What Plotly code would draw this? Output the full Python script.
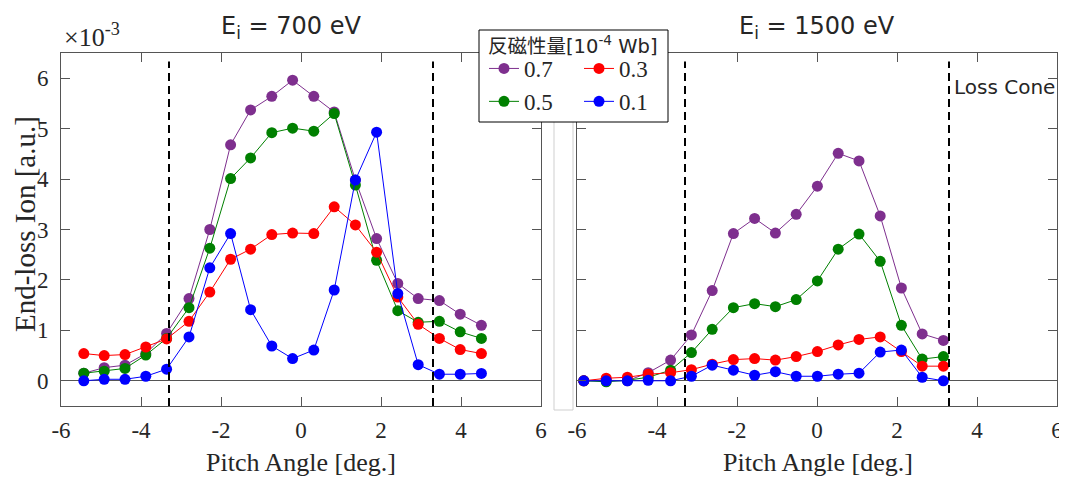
import plotly.graph_objects as go

# ---------------- data (values in units of 1e-3) ----------------
left_angle = [-5.43, -4.92, -4.40, -3.88, -3.36, -2.80, -2.28, -1.76, -1.26, -0.73,
              -0.21, 0.32, 0.83, 1.36, 1.89, 2.42, 2.93, 3.46, 3.98, 4.51]
left_07 = [0.15, 0.26, 0.31, 0.54, 0.94, 1.63, 3.00, 4.68, 5.37, 5.64,
           5.96, 5.64, 5.33, 3.98, 2.82, 1.93, 1.63, 1.59, 1.32, 1.10]
left_05 = [0.15, 0.19, 0.245, 0.51, 0.84, 1.45, 2.63, 4.01, 4.42, 4.92,
           5.01, 4.95, 5.30, 3.88, 2.39, 1.39, 1.16, 1.18, 0.97, 0.84]
left_03 = [0.54, 0.50, 0.52, 0.67, 0.83, 1.18, 1.76, 2.41, 2.61, 2.90,
           2.93, 2.92, 3.45, 3.09, 2.55, 1.66, 1.12, 0.84, 0.62, 0.54]
left_01 = [0.00, 0.03, 0.03, 0.09, 0.23, 0.87, 2.24, 2.92, 1.41, 0.69,
           0.44, 0.61, 1.80, 3.98, 4.93, 1.73, 0.32, 0.13, 0.13, 0.145]

right_angle = [-5.83, -5.27, -4.74, -4.22, -3.66, -3.14, -2.62, -2.09, -1.56,
               -1.04, -0.52, 0.01, 0.53, 1.05, 1.58, 2.11, 2.63, 3.16]
right_07 = [0.00, 0.01, 0.00, 0.16, 0.41, 0.91, 1.79, 2.92, 3.22,
            2.93, 3.30, 3.86, 4.51, 4.36, 3.27, 1.84, 0.93, 0.80]
right_05 = [0.00, -0.02, 0.01, 0.07, 0.21, 0.56, 1.02, 1.45, 1.53,
            1.47, 1.61, 1.98, 2.61, 2.91, 2.37, 1.10, 0.43, 0.48]
right_03 = [0.00, 0.05, 0.07, 0.13, 0.16, 0.22, 0.33, 0.42, 0.44,
            0.41, 0.48, 0.58, 0.71, 0.82, 0.87, 0.58, 0.29, 0.29]
right_01 = [0.00, 0.00, 0.00, 0.01, 0.00, 0.09, 0.31, 0.21, 0.11,
            0.18, 0.09, 0.09, 0.13, 0.15, 0.57, 0.61, 0.07, 0.00]

series_names = ["0.7", "0.5", "0.3", "0.1"]
series_colors = ["#7E2F8E", "#008000", "#FF0000", "#0000FF"]
series_legend = ["legend", "legend", "legend2", "legend2"]
left_values = [left_07, left_05, left_03, left_01]
right_values = [right_07, right_05, right_03, right_01]

loss_cone = 3.3
x_ticks = [-6, -4, -2, 0, 2, 4, 6]
x_tick_text = ["-6", "-4", "-2", "0", "2", "4", "6"]
y_ticks = [0, 1, 2, 3, 4, 5, 6]
y_tick_text = ["0", "1", "2", "3", "4", "5", "6"]

# the page body adds an 8 px margin, so the figure is sized and positioned to compensate
OFF = 8
W, H = 1067 - OFF, 478 - OFF
SERIF = "Liberation Serif, Times New Roman, serif"
SANS = "DejaVu Sans, Noto Sans CJK JP, sans-serif"
TXT = "#262626"


def px_x(p):
    return (p - OFF) / W


def px_y(p):
    return 1 - (p - OFF) / H


fig = go.Figure()

for name, col, leg, yl, yr in zip(series_names, series_colors, series_legend,
                                   left_values, right_values):
    fig.add_trace(go.Scatter(x=left_angle, y=yl, mode="lines+markers", name=name,
                             line=dict(color=col, width=1),
                             marker=dict(color=col, size=11),
                             legend=leg, showlegend=True,
                             xaxis="x", yaxis="y"))
    fig.add_trace(go.Scatter(x=right_angle, y=yr, mode="lines+markers", name=name,
                             line=dict(color=col, width=1),
                             marker=dict(color=col, size=11),
                             legend=leg, showlegend=False,
                             xaxis="x2", yaxis="y2"))

axis_common = dict(showgrid=False, showline=True, linecolor="#555555", linewidth=1,
                   mirror="ticks", ticks="inside", ticklen=9, tickcolor="#555555",
                   automargin=False,
                   tickfont=dict(family=SERIF, size=23, color=TXT))

fig.update_layout(
    width=W, height=H, margin=dict(l=0, r=0, t=0, b=0, pad=0, autoexpand=False),
    plot_bgcolor="white", paper_bgcolor="white",
    xaxis=dict(domain=[px_x(61), px_x(541)], range=[-6, 6], tickvals=x_ticks,
               ticktext=x_tick_text, zeroline=False, anchor="y", ticklabelstandoff=3,
               **axis_common),
    yaxis=dict(domain=[px_y(406), px_y(53)], range=[-0.5, 6.5], tickvals=y_ticks,
               ticktext=y_tick_text, zeroline=True, zerolinecolor="#555555",
               zerolinewidth=1, anchor="x", ticklabelstandoff=7, **axis_common),
    xaxis2=dict(domain=[px_x(577), px_x(1057)], range=[-6, 6], tickvals=x_ticks,
                ticktext=x_tick_text, zeroline=False, anchor="y2", ticklabelstandoff=3,
                **axis_common),
    yaxis2=dict(domain=[px_y(406), px_y(53)], range=[-0.5, 6.5], tickvals=y_ticks,
                zeroline=True, zerolinecolor="#555555", zerolinewidth=1,
                anchor="x2", showticklabels=False, **axis_common),
    legend=dict(x=px_x(484), y=px_y(47), xanchor="left", yanchor="top",
                bgcolor="rgba(0,0,0,0)", borderwidth=0, tracegroupgap=0,
                itemwidth=30, font=dict(family=SERIF, size=23, color=TXT)),
    legend2=dict(x=px_x(579), y=px_y(47), xanchor="left", yanchor="top",
                 bgcolor="rgba(0,0,0,0)", borderwidth=0, tracegroupgap=0,
                 itemwidth=30, font=dict(family=SERIF, size=23, color=TXT)),
)

shapes = []
for xr, yr in [("x", "y"), ("x2", "y2")]:
    for xv in (-loss_cone, loss_cone):
        shapes.append(dict(type="line", xref=xr, yref=yr, x0=xv, x1=xv, y0=-0.5, y1=6.33,
                           line=dict(color="black", width=2, dash="8px,5px")))
# light grey strip between panels
shapes.append(dict(type="rect", xref="paper", yref="paper",
                   x0=px_x(554), x1=px_x(573), y0=px_y(410), y1=px_y(120),
                   line=dict(color="#cfcfcf", width=1), fillcolor="white", layer="above"))
# legend box
shapes.append(dict(type="rect", xref="paper", yref="paper",
                   x0=px_x(479), x1=px_x(668), y0=px_y(122), y1=px_y(30),
                   line=dict(color="black", width=1), fillcolor="white", layer="above"))
fig.update_layout(shapes=shapes)

C = dict(xref="paper", yref="paper", showarrow=False, xanchor="center", yanchor="middle")
ann = [
    dict(text="E<sub>i</sub> = 700 eV", x=px_x(291), y=px_y(28),
         font=dict(family=SANS, size=24, color=TXT), **C),
    dict(text="E<sub>i</sub> = 1500 eV", x=px_x(817), y=px_y(28),
         font=dict(family=SANS, size=24, color=TXT), **C),
    dict(text="Pitch Angle [deg.]", x=px_x(301), y=px_y(462),
         font=dict(family=SERIF, size=26, color=TXT), **C),
    dict(text="Pitch Angle [deg.]", x=px_x(818), y=px_y(462),
         font=dict(family=SERIF, size=26, color=TXT), **C),
    dict(text="End-loss Ion [a.u.]", x=px_x(25), y=px_y(224), textangle=-90,
         font=dict(family=SERIF, size=29, color=TXT), **C),
    dict(text="反磁性量[10<sup>-4</sup> Wb]", x=px_x(573), y=px_y(45),
         font=dict(family=SANS, size=19.5, color=TXT), **C),
    dict(text="×10<sup>-3</sup>", x=px_x(62), y=px_y(36), xref="paper", yref="paper",
         xanchor="left", yanchor="middle", showarrow=False,
         font=dict(family=SERIF, size=26, color=TXT)),
    dict(text="Loss Cone", x=loss_cone, y=5.83, xref="x2", yref="y2", xanchor="left",
         yanchor="middle", xshift=3, showarrow=False,
         font=dict(family=SANS, size=20, color=TXT)),
]
fig.update_layout(annotations=ann)

fig.write_html("out.html")
